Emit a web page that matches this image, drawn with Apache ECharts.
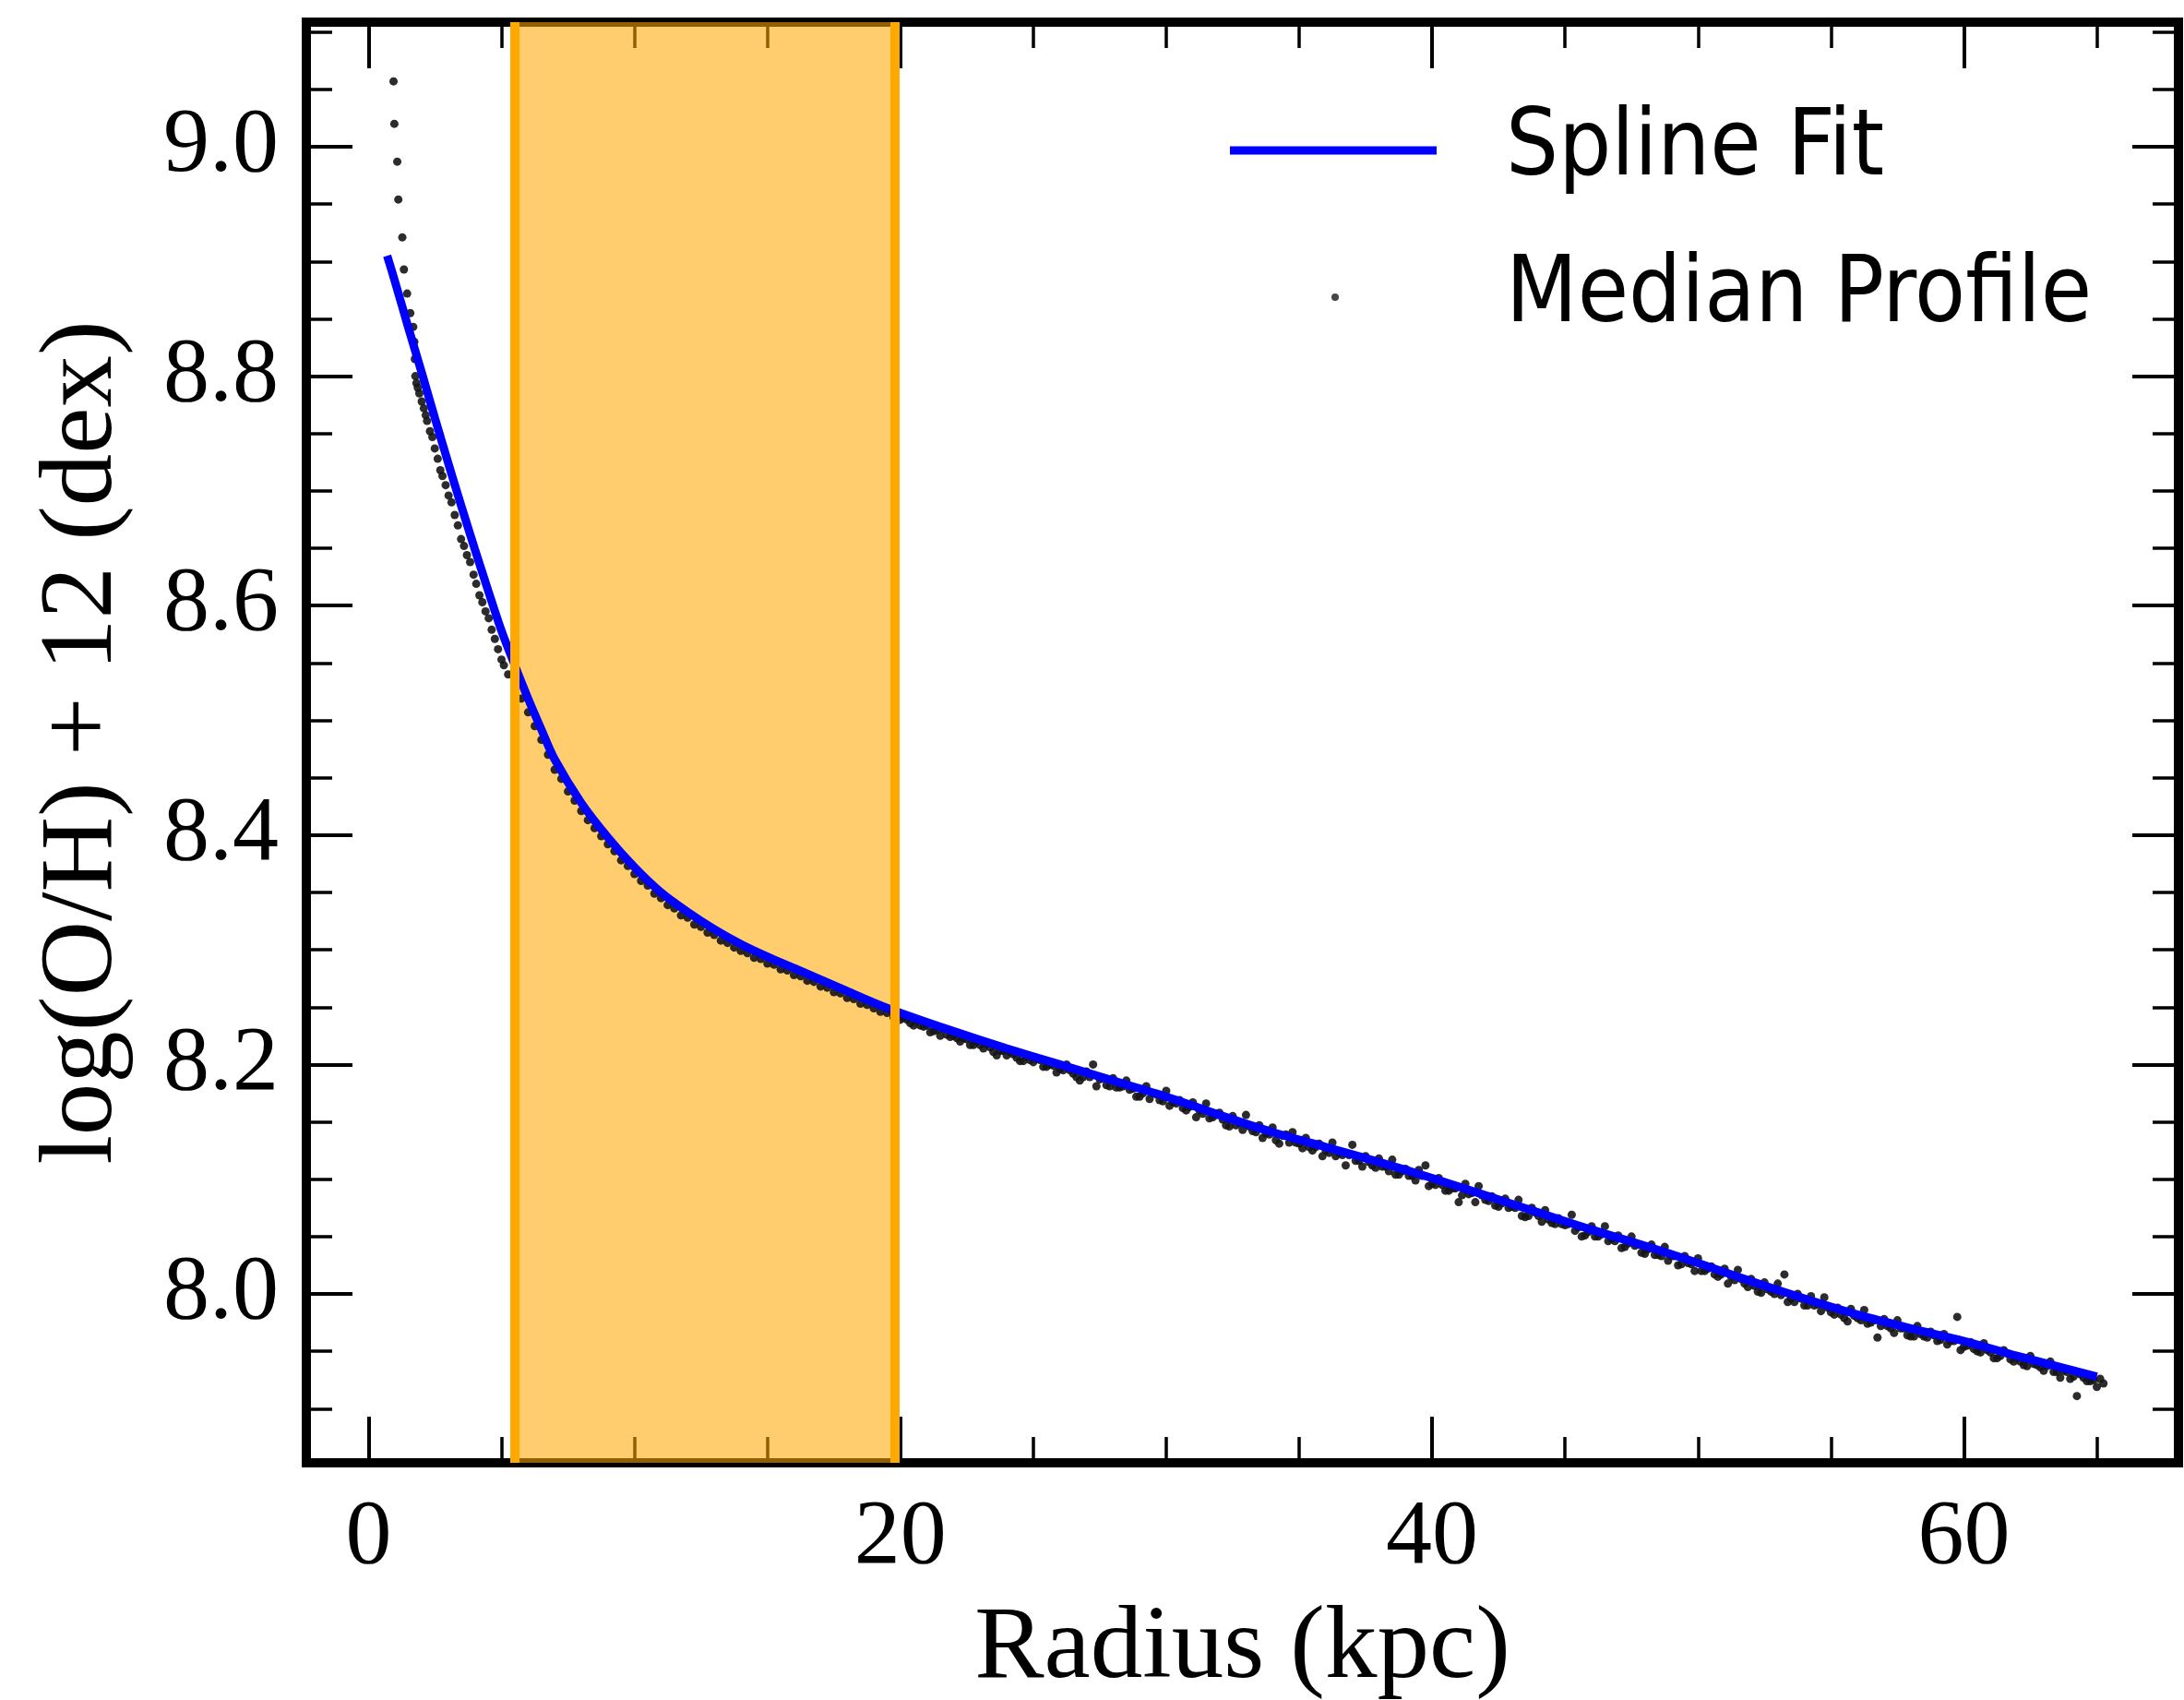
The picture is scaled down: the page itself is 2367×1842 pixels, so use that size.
<!DOCTYPE html>
<html><head><meta charset="utf-8">
<script src="https://cdn.jsdelivr.net/npm/echarts@6/dist/echarts.min.js"></script>
<style>html,body{margin:0;padding:0;background:#fff}#c{width:2367px;height:1842px}</style>
</head><body><div id="c"></div>
<script>
// ---- axis ranges / ticks ----
const xRange = [-2.34, 68.07];
const yRange = [7.8528, 9.1086];
const xMajorTicks = [0, 20, 40, 60];
const xMinorTicks = [5, 10, 15, 25, 30, 35, 45, 50, 55, 65];
const yMajorTicks = [8.0, 8.2, 8.4, 8.6, 8.8, 9.0];
const yMinorTicks = [7.9, 7.95, 8.05, 8.1, 8.15, 8.25, 8.3, 8.35, 8.45, 8.5, 8.55, 8.65, 8.7, 8.75, 8.85, 8.9, 8.95, 9.05, 9.1];
// ---- shaded band (kpc) ----
const bandStart = 5.5;
const bandEnd = 19.8;
// ---- Spline Fit ----
const splineRadius = [0.70,1.0,1.5,2.0,2.5,3.0,3.5,4.0,4.5,5.0,5.5,6.0,6.5,7.0,8.0,9.0,10.0,11.0,12.0,13.0,14.0,15.0,16.0,17.0,18.0,19.0,20.0,22.0,24.0,26.0,28.0,30.0,32.0,34.0,36.0,38.0,40.0,42.0,44.0,46.0,48.0,50.0,52.0,54.0,56.0,58.0,60.0,62.0,64.0,65.0];
const splineOH = [8.905,8.882,8.842,8.803,8.763,8.724,8.686,8.649,8.613,8.578,8.548,8.519,8.492,8.466,8.428,8.398,8.372,8.350,8.333,8.318,8.305,8.294,8.284,8.274,8.264,8.254,8.245,8.229,8.214,8.200,8.186,8.172,8.156,8.141,8.128,8.115,8.101,8.086,8.071,8.056,8.042,8.027,8.011,7.996,7.982,7.970,7.959,7.946,7.934,7.928];
// ---- Median Profile [radius, log(O/H)+12] ----
const medianProfile = [
[0.94,9.057],[0.97,9.020],[1.08,8.987],[1.12,8.954],[1.27,8.921],[1.33,8.893],[1.45,8.872],[1.57,8.855],[1.68,8.843],[1.72,8.830],[1.74,8.815],[1.76,8.800],[1.80,8.794],[1.85,8.790],[1.91,8.785],[2.00,8.778],[2.08,8.772],[2.15,8.766],[2.20,8.761],[2.31,8.752],[2.40,8.747],[2.49,8.737],[2.60,8.728],[2.70,8.718],[2.78,8.713],[2.90,8.705],[3.01,8.696],[3.12,8.690],[3.24,8.679],[3.36,8.670],[3.48,8.658],[3.59,8.652],[3.70,8.644],[3.82,8.638],[3.95,8.627],[4.05,8.619],[4.17,8.609],[4.28,8.603],[4.40,8.595],[4.52,8.589],[4.63,8.579],[4.75,8.571],[4.87,8.562],[5.00,8.553],[5.09,8.548],
[5.25,8.540],[5.5,8.530],[5.75,8.519],[6.0,8.507],[6.25,8.495],[6.5,8.483],[6.75,8.470],[7.0,8.457],[7.25,8.449],[7.5,8.438],[7.75,8.430],[8.0,8.421],[8.25,8.413],[8.5,8.406],[8.75,8.399],[9.0,8.392],[9.25,8.386],[9.5,8.378],[9.75,8.373],[10.0,8.366],[10.25,8.360],[10.5,8.356],[10.75,8.349],[11.0,8.345],[11.25,8.339],[11.5,8.336],[11.75,8.330],[12.0,8.328],[12.25,8.322],[12.5,8.320],[12.75,8.315],[13.0,8.313],[13.25,8.308],[13.5,8.306],[13.75,8.302],[14.0,8.299],[14.25,8.297],[14.5,8.293],[14.75,8.292],[15.0,8.288],[15.25,8.287],[15.5,8.283],[15.75,8.282],[16.0,8.278],[16.25,8.277],[16.5,8.273],[16.75,8.272],[17.0,8.268],[17.25,8.267],[17.5,8.263],[17.75,8.262],[18.0,8.258],[18.25,8.257],[18.5,8.253],[18.75,8.252],[19.0,8.249],[19.25,8.246],[19.5,8.245],[19.75,8.241],
[20.0,8.239],[20.25,8.239],[20.5,8.234],[20.75,8.234],[21.0,8.234],[21.25,8.229],[21.5,8.225],[21.75,8.226],[22.0,8.225],[22.25,8.220],[22.5,8.222],[22.75,8.217],[23.0,8.217],[23.25,8.218],[23.5,8.211],[23.75,8.212],[24.0,8.208],[24.25,8.209],[24.5,8.203],[24.75,8.207],[25.0,8.202],[25.25,8.204],[25.5,8.198],[25.75,8.199],
[26.0,8.196],[26.25,8.200],[26.5,8.192],[26.75,8.186],[27.0,8.194],[27.25,8.200],[27.5,8.187],[27.75,8.182],[28.0,8.188],[28.25,8.180],[28.5,8.186],[28.75,8.179],[29.0,8.172],[29.25,8.181],[29.5,8.175],[29.75,8.169],
[30.0,8.177],[30.25,8.167],[30.5,8.169],[30.75,8.160],[31.0,8.167],[31.25,8.160],[31.5,8.166],[31.75,8.154],[32.0,8.158],[32.25,8.147],[32.5,8.155],[32.75,8.149],[33.0,8.156],[33.25,8.142],[33.5,8.147],[33.75,8.140],
[34.0,8.145],[34.25,8.131],[34.5,8.139],[34.75,8.141],[35.0,8.131],[35.25,8.136],[35.5,8.125],[35.75,8.131],[36.0,8.125],[36.25,8.132],[36.5,8.123],[36.75,8.112],[37.0,8.130],[37.25,8.116],[37.5,8.120],[37.75,8.112],
[38.0,8.118],[38.25,8.111],[38.5,8.117],[38.75,8.104],[39.0,8.109],[39.25,8.103],[39.5,8.108],[39.75,8.112],[40.0,8.096],[40.25,8.101],[40.5,8.090],[40.75,8.092],[41.0,8.080],[41.25,8.096],[41.5,8.088],[41.75,8.094],
[42.0,8.082],[42.25,8.085],[42.5,8.076],[42.75,8.083],[43.0,8.076],[43.25,8.082],[43.5,8.067],[43.75,8.075],[44.0,8.068],[44.25,8.073],[44.5,8.062],[44.75,8.066],[45.0,8.060],[45.25,8.069],[45.5,8.058],[45.75,8.051],
[46.0,8.059],[46.25,8.050],[46.5,8.059],[46.75,8.048],[47.0,8.051],[47.25,8.041],[47.5,8.050],[47.75,8.043],[48.0,8.035],[48.25,8.043],[48.5,8.034],[48.75,8.041],[49.0,8.033],[49.25,8.025],[49.5,8.033],[49.75,8.026],
[50.0,8.031],[50.25,8.020],[50.5,8.024],[50.75,8.015],[51.0,8.022],[51.25,8.015],[51.5,8.021],[51.75,8.009],[52.0,8.013],[52.25,8.002],[52.5,8.010],[52.75,8.002],[53.0,8.009],[53.25,8.017],[53.5,7.996],[53.75,8.000],
[54.0,7.990],[54.25,7.998],[54.5,7.991],[54.75,7.997],[55.0,7.984],[55.25,7.988],[55.5,7.979],[55.75,7.987],[56.0,7.979],[56.25,7.986],[56.5,7.975],[56.75,7.962],[57.0,7.978],[57.25,7.970],[57.5,7.977],[57.75,7.970],
[58.0,7.963],[58.25,7.972],[58.5,7.963],[58.75,7.967],[59.0,7.959],[59.25,7.965],[59.5,7.959],[59.75,7.980],[60.0,7.954],[60.25,7.958],[60.5,7.950],[60.75,7.957],[61.0,7.949],[61.25,7.944],[61.5,7.951],[61.75,7.943],
[62.0,7.944],[62.25,7.938],[62.5,7.946],[62.75,7.938],[63.0,7.933],[63.25,7.941],[63.5,7.932],[63.75,7.933],[64.0,7.926],[64.25,7.911],[64.5,7.927],[64.75,7.924],[65.0,7.919],[65.25,7.922],
[20.125,8.241],[20.375,8.236],[20.625,8.238],[20.875,8.233],[21.125,8.228],[21.375,8.230],[21.625,8.231],[21.875,8.224],
[22.125,8.223],[22.375,8.223],[22.625,8.217],[22.875,8.220],[23.125,8.214],[23.375,8.215],[23.625,8.208],[23.875,8.212],
[24.125,8.211],[24.375,8.206],[24.625,8.203],[24.875,8.204],[25.125,8.205],[25.375,8.198],[25.625,8.200],[25.875,8.193],
[26.125,8.195],[26.375,8.195],[26.625,8.189],[26.875,8.189],[27.125,8.189],[27.375,8.181],[27.625,8.188],[27.875,8.181],
[28.125,8.180],[28.375,8.181],[28.625,8.178],[28.875,8.172],[29.125,8.175],[29.375,8.170],[29.625,8.174],[29.875,8.168],
[30.125,8.164],[30.375,8.166],[30.625,8.162],[30.875,8.163],[31.125,8.154],[31.375,8.157],[31.625,8.153],[31.875,8.156],
[32.125,8.152],[32.375,8.146],[32.625,8.147],[32.875,8.143],[33.125,8.146],[33.375,8.141],[33.625,8.136],[33.875,8.139],
[34.125,8.134],[34.375,8.138],[34.625,8.132],[34.875,8.132],[35.125,8.127],[35.375,8.128],[35.625,8.128],[35.875,8.120],
[36.125,8.123],[36.375,8.120],[36.625,8.121],[36.875,8.121],[37.125,8.116],[37.375,8.111],[37.625,8.115],[37.875,8.110],
[38.125,8.111],[38.375,8.107],[38.625,8.104],[38.875,8.107],[39.125,8.103],[39.375,8.099],[39.625,8.103],[39.875,8.094],
[40.125,8.095],[40.375,8.095],[40.625,8.090],[40.875,8.092],[41.125,8.086],[41.375,8.087],[41.625,8.080],[41.875,8.086],
[42.125,8.081],[42.375,8.077],[42.625,8.079],[42.875,8.075],[43.125,8.075],[43.375,8.068],[43.625,8.068],[43.875,8.071],
[44.125,8.063],[44.375,8.065],[44.625,8.061],[44.875,8.061],[45.125,8.061],[45.375,8.055],[45.625,8.050],[45.875,8.054],
[46.125,8.050],[46.375,8.052],[46.625,8.046],[46.875,8.046],[47.125,8.040],[47.375,8.044],[47.625,8.042],[47.875,8.036],
[48.125,8.039],[48.375,8.034],[48.625,8.033],[48.875,8.029],[49.125,8.033],[49.375,8.026],[49.625,8.027],[49.875,8.020],
[50.125,8.020],[50.375,8.022],[50.625,8.017],[50.875,8.017],[51.125,8.009],[51.375,8.012],[51.625,8.013],[51.875,8.006],
[52.125,8.007],[52.375,8.001],[52.625,8.004],[52.875,8.000],[53.125,7.999],[53.375,7.993],[53.625,7.993],[53.875,7.996],
[54.125,7.990],[54.375,7.990],[54.625,7.985],[54.875,7.988],[55.125,7.982],[55.375,7.982],[55.625,7.976],[55.875,7.981],
[56.125,7.977],[56.375,7.974],[56.625,7.977],[56.875,7.972],[57.125,7.972],[57.375,7.966],[57.625,7.970],[57.875,7.964],
[58.125,7.963],[58.375,7.965],[58.625,7.962],[58.875,7.964],[59.125,7.960],[59.375,7.956],[59.625,7.959],[59.875,7.951],
[60.125,7.955],[60.375,7.952],[60.625,7.949],[60.875,7.951],[61.125,7.944],[61.375,7.946],[61.625,7.948],[61.875,7.941],
[62.125,7.941],[62.375,7.937],[62.625,7.939],[62.875,7.936],[63.125,7.937],[63.375,7.932],[63.625,7.927],[63.875,7.932],
[64.125,7.928],[64.375,7.930],[64.625,7.924],[64.875,7.925],[65.125,7.926]
];

const splineData = splineRadius.map((r, i) => [r, splineOH[i]]);
const serif = 'Liberation Serif';
const sans = 'DejaVu Sans Condensed, DejaVu Sans';
const nameStyle = { fontFamily: serif, fontSize: 113, color: '#000' };

function axisCfg(kind, pos, ticks, len, width, labels, name, gap, fmt) {
  const range = kind === 'x' ? xRange : yRange;
  return {
    type: 'value', position: pos, min: range[0], max: range[1],
    axisLine: { show: false, onZero: false },
    axisTick: { show: true, inside: true, length: len, customValues: ticks, lineStyle: { color: '#000', width: width } },
    minorTick: { show: false }, splitLine: { show: false }, minorSplitLine: { show: false },
    axisLabel: labels ? { show: true, customValues: ticks, margin: kind === 'x' ? 32 : 30, color: '#000',
      fontFamily: serif, fontSize: 100, formatter: fmt } : { show: false },
    name: name || '', nameLocation: 'middle', nameGap: gap || 0, nameTextStyle: nameStyle
  };
}

const chart = echarts.init(document.getElementById('c'), null, { renderer: 'canvas' });
chart.setOption({
  animation: false,
  backgroundColor: '#fff',
  grid: { left: 332, right: 6, top: 24, bottom: 257, show: true, borderColor: '#000', borderWidth: 10,
          backgroundColor: 'transparent', containLabel: false, outerBoundsMode: 'none' },
  xAxis: [
    axisCfg('x', 'bottom', xMajorTicks, 50, 4, true, 'Radius (kpc)', 146, v => String(Math.round(v))),
    axisCfg('x', 'top', xMajorTicks, 50, 4, false),
    axisCfg('x', 'bottom', xMinorTicks, 28, 3.5, false),
    axisCfg('x', 'top', xMinorTicks, 28, 3.5, false)
  ],
  yAxis: [
    axisCfg('y', 'left', yMajorTicks, 50, 4, true, 'log(O/H) + 12 (dex)', 185, v => Number(v).toFixed(1)),
    axisCfg('y', 'right', yMajorTicks, 50, 4, false),
    axisCfg('y', 'left', yMinorTicks, 28, 3.5, false),
    axisCfg('y', 'right', yMinorTicks, 28, 3.5, false)
  ],
  legend: [
    { data: [{ name: 'Spline Fit', icon: 'rect', itemStyle: { color: '#0000ff' } }], left: 1328, top: 103,
      orient: 'vertical', itemWidth: 224, itemHeight: 9,
      textStyle: { fontFamily: sans, fontSize: 100, color: '#000', lineHeight: 110, padding: [0, 0, 0, 70] } },
    { data: [{ name: 'Median Profile', icon: 'circle', itemStyle: { color: '#333' } }], left: 1438, top: 262,
      orient: 'vertical', itemWidth: 8, itemHeight: 8,
      textStyle: { fontFamily: sans, fontSize: 100, color: '#000', lineHeight: 110, padding: [0, 0, 0, 176] } }
  ],
  series: [
    { name: 'Median Profile', type: 'scatter', xAxisIndex: 0, yAxisIndex: 0, data: medianProfile,
      symbol: 'circle', symbolSize: 9, itemStyle: { color: '#151515', opacity: 0.9 }, z: 2, silent: true },
    { name: 'Spline Fit', type: 'line', xAxisIndex: 0, yAxisIndex: 0, data: splineData,
      symbol: 'none', smooth: 0.3, lineStyle: { color: '#0000ff', width: 9 }, z: 3, silent: true },
    { name: 'band', type: 'line', xAxisIndex: 0, yAxisIndex: 0, data: [], z: 5, silent: true,
      markArea: { silent: true, itemStyle: { color: 'rgba(255,165,0,0.57)', borderWidth: 0 },
        data: [[{ xAxis: bandStart }, { xAxis: bandEnd }]] },
      markLine: { silent: true, symbol: ['none', 'none'], label: { show: false },
        lineStyle: { color: '#ffa800', width: 10, type: 'solid' },
        data: [{ xAxis: bandStart }, { xAxis: bandEnd }] } }
  ]
});
</script></body></html>
